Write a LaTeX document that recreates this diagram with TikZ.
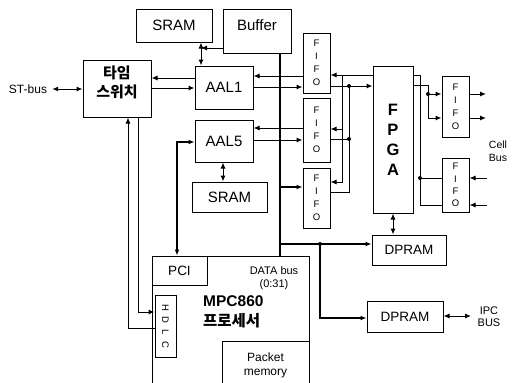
\documentclass[tikz,border=0pt]{standalone}
\usepackage{fontspec}
\setmainfont{Liberation Sans}
\newfontfamily\kr{Noto Sans CJK KR}
\usetikzlibrary{arrows.meta}
\tikzset{
    blk/.style={draw, line width=1pt, inner sep=0pt, align=center, font=\fontsize{15}{17}\selectfont},
    fifo/.style={blk, minimum width=27pt, font=\fontsize{9.5}{13}\selectfont},
    lbl/.style={inner sep=0pt, align=center},
    ln/.style={line width=1pt},
    bus/.style={line width=2pt},
    dot/.style={circle, fill, inner sep=0pt, minimum size=4pt},
    >={Latex[length=6pt,width=5pt]}
}
\begin{document}
\begin{tikzpicture}[x=1pt, y=-1pt]
    \useasboundingbox (0,0) rectangle (515,383);
    \clip (0,0) rectangle (515,383);

    % processor board, cut off at the bottom edge
    \node[blk, minimum width=157pt, minimum height=150pt] (mpc) at (230.5,331) {};
    \node[blk, minimum width=87pt, minimum height=48pt, font=\fontsize{12}{14}\selectfont] (pmem) at (265.5,365) {Packet\\memory};
    \node[blk, minimum width=55pt, minimum height=29pt, font=\fontsize{13.5}{15}\selectfont] (pci) at (179.5,270.5) {PCI};
    \node[blk, fill=white, minimum width=21pt, minimum height=62pt] (hdlc) at (165.5,326) {};
    \node[lbl, rotate=-90, font=\fontsize{9.5}{10}\selectfont] (hdlctxt) at (hdlc.center) {H\hspace{6pt}D\hspace{6pt}L\hspace{6pt}C};
    \node[lbl, font=\fontsize{11}{12.5}\selectfont] (databus) at (274,278) {DATA bus\\(0:31)};
    \node[lbl, anchor=west, align=left, font=\bfseries\fontsize{15.5}{20}\selectfont] (cpu) at (203,312) {MPC860\\{\kr 프로세서}};

    \node[blk, minimum width=68pt, minimum height=57pt] (tsw) at (117,88.5) {};
    \node[lbl, font=\kr\bfseries\fontsize{15}{19}\selectfont] (tswtxt) at ([yshift=6pt]tsw.center) {타임\\스위치};
    \node[lbl, inner xsep=5pt, font=\fontsize{12}{13}\selectfont] (stbus) at (28,89) {ST-bus};

    \node[blk, minimum width=76pt, minimum height=33pt] (sramA) at (174,25.5) {SRAM};
    \node[blk, minimum width=68pt, minimum height=44pt] (buffer) at (257,31) {};
    \node[lbl, font=\fontsize{15}{17}\selectfont] (buftxt) at ([yshift=6pt]buffer.center) {Buffer};
    \node[blk, minimum width=58pt, minimum height=43pt] (aal1) at (224,87.5) {AAL1};
    \node[blk, minimum width=58pt, minimum height=42pt] (aal5) at (224,141) {AAL5};
    \node[blk, minimum width=75pt, minimum height=30pt] (sramB) at (229.5,197) {SRAM};

    \node[fifo, minimum height=60pt] (fifo1) at (316.5,63) {F\\I\\F\\O};
    \node[fifo, minimum height=64pt] (fifo2) at (316.5,130) {F\\I\\F\\O};
    \node[fifo, minimum height=60pt] (fifo3) at (316.5,198) {F\\I\\F\\O};
    \node[blk, minimum width=40pt, minimum height=147pt, font=\bfseries\fontsize{16.5}{20}\selectfont] (fpga) at (393,139.5) {F\\P\\G\\A};
    \node[fifo, minimum height=61pt] (fifo4) at (455.5,106.5) {F\\I\\F\\O};
    \node[fifo, minimum height=54pt, font=\fontsize{9.5}{12.3}\selectfont] (fifo5) at (455.5,185) {F\\I\\F\\O};
    \node[lbl, font=\fontsize{10.5}{12.5}\selectfont] (cellbus) at (498,151) {Cell\\Bus};

    \node[blk, minimum width=74pt, minimum height=30pt, font=\fontsize{13.5}{15}\selectfont] (dpram1) at (409,250) {DPRAM};
    \node[blk, minimum width=76pt, minimum height=31pt, font=\fontsize{13.5}{15}\selectfont] (dpram2) at (405,316.5) {DPRAM};
    \node[lbl, font=\fontsize{11}{12}\selectfont] (ipcbus) at (489,317) {IPC\\BUS};

    \coordinate (bj) at (201,48);
    \coordinate (fl) at (342,75);
    \coordinate (fr) at (349,86);
    \coordinate (ra) at (420,75);
    \coordinate (rb) at (428,85);
    \coordinate (co1) at (486,94);
    \coordinate (co2) at (486,118);
    \coordinate (ci1) at (487,178);
    \coordinate (ci2) at (487,205);
    \coordinate (ipc) at (471,316);
    \coordinate (bt) at (280,187);
    \coordinate (bd) at (280,244);
    \node[dot] (dj) at (320,244) {};

    % time switch
    \draw[ln,<->] (stbus.east) -- (stbus.east -| tsw.west);
    \draw[ln,->] (aal1.west |- 0,78) -- (tsw.east |- 0,78);
    \draw[ln,->] (tsw.east |- 0,88) -- (aal1.west |- 0,88);
    \draw[ln,->] (tsw.south -| 138,0) |- (hdlc.west |- 0,312);
    \draw[ln,->] (hdlc.west |- 0,328) -| (tsw.south -| 128,0);

    % AAL side
    \draw[ln,<->] (sramA.south -| bj) -- (aal1.north -| bj);
    \draw[ln,->] (buffer.west |- bj) -- (bj);
    \draw[ln,->] (fifo1.west |- 0,76) -- (aal1.east |- 0,76);
    \draw[ln,->] (aal1.east |- 0,87) -- (fifo1.west |- 0,87);
    \draw[ln,->] (fifo2.west |- 0,128) -- (aal5.east |- 0,128);
    \draw[ln,->] (aal5.east |- 0,140) -- (fifo2.west |- 0,140);
    \draw[ln,<->] (aal5.south -| 223,0) -- (sramB.north -| 223,0);
    \draw[bus,<->] (pci.north -| 177,0) |- (aal5.west |- 0,142);

    % data bus
    \draw[bus] (buffer.south -| bt) -- (mpc.north -| bt);
    \draw[bus,->] (bt) -- (fifo3.west |- bt);
    \draw[bus,->] (bd) -- (dpram1.west |- bd);
    \draw[bus,->] (dj) |- (dpram2.west |- 0,318);
    \draw[ln,<->] (dpram2.east |- ipc) -- (ipc);

    % FPGA left
    \draw[ln,->] (fpga.west |- fl) -- (fifo1.east |- fl);
    \draw[ln,->] (fl) |- (fifo2.east |- 0,129);
    \draw[ln,->] (fl) |- (fifo3.east |- 0,182);
    \draw[ln,->] (fifo1.east |- fr) -- (fpga.west |- fr);
    \draw[ln] (fifo2.east |- 0,139) -| (fr);
    \draw[ln] (fifo3.east |- 0,192) -| (fr);
    \node[dot] (d1) at (fr) {};
    \node[dot] (d2) at (fr |- 0,139) {};

    % FPGA right
    \draw[ln] (fpga.east |- ra) -- (ra) |- (fifo5.west |- ci2);
    \draw[ln] (ra |- ci1) -- (fifo5.west |- ci1);
    \node[dot] (d3) at (ra |- ci1) {};
    \draw[ln,->] (fpga.east |- rb) -- (rb) |- (fifo4.west |- co2);
    \draw[ln,->] (rb |- co1) -- (fifo4.west |- co1);
    \node[dot] (d4) at (rb |- co1) {};
    \draw[ln,->] (fifo4.east |- co1) -- (co1);
    \draw[ln,->] (fifo4.east |- co2) -- (co2);
    \draw[ln,->] (ci1) -- (fifo5.east |- ci1);
    \draw[ln,->] (ci2) -- (fifo5.east |- ci2);
    \draw[ln,<->] (fpga.south) -- (fpga.south |- dpram1.north);
\end{tikzpicture}
\end{document}
